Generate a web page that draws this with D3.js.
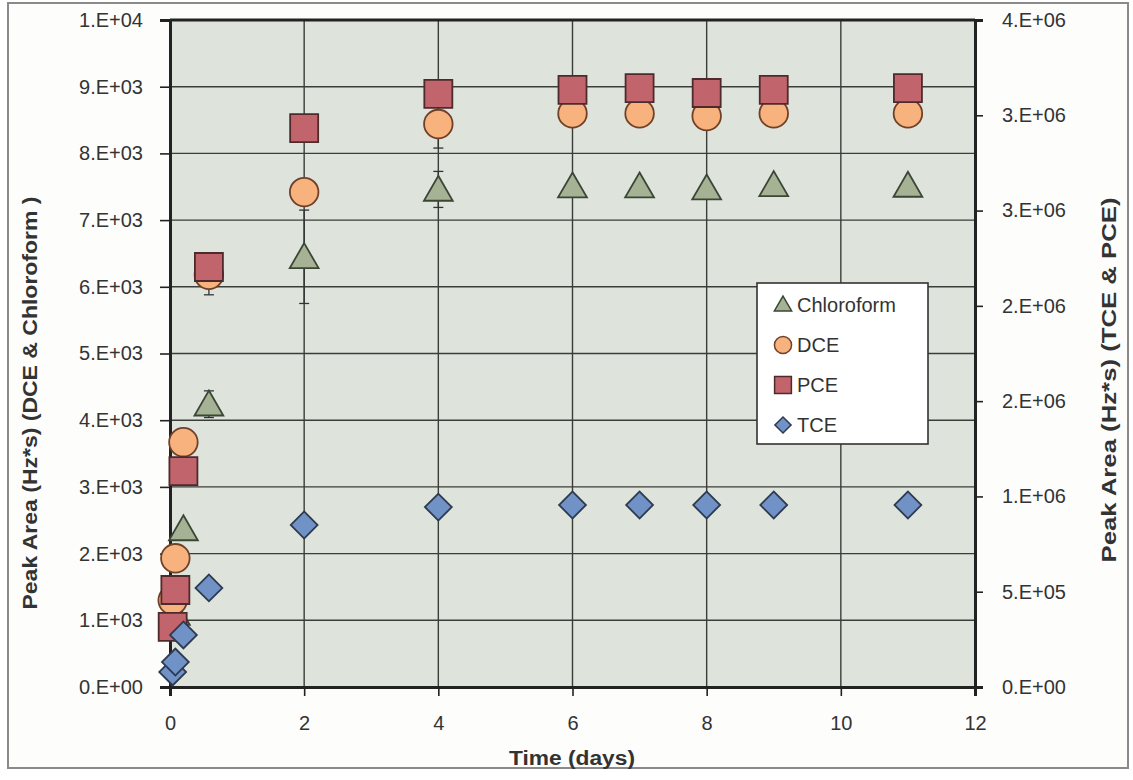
<!DOCTYPE html>
<html>
<head>
<meta charset="utf-8">
<script src="https://cdn.jsdelivr.net/npm/d3@7"></script>
<style>
  body { margin: 0; background: #fff; }
  svg text { font-family: "Liberation Sans", Arial, sans-serif; }
  svg text.title { font-family: "Liberation Sans Narrow", "Arial Narrow", "Liberation Sans", sans-serif; }
</style>
</head>
<body>
<div id="chart"></div>
<script>
// sampling times (days)
const days = [0.04, 0.08, 0.2, 0.58, 2, 4, 6, 7, 8, 9, 11];

// left axis series
const chloroform    = [null, 1100, 2370, 4240, 6450, 7460, 7510, 7510, 7480, 7530, 7520];
const chloroformErr = [0, 0, 0, 200, 700, 270, 0, 0, 0, 0, 0];
const dce           = [1300, 1930, 3670, 6180, 7420, 8440, 8600, 8600, 8560, 8600, 8600];
const dceErr        = [0, 0, 0, 300, 0, 360, 0, 0, 0, 0, 0];

// right axis series
const pce = [315000, 509000, 1133000, 2204000, 2933000, 3112000, 3133000, 3143000, 3117000, 3133000, 3143000];
const tce = [79000, 131000, 273000, 520000, 850000, 944000, 955000, 955000, 955000, 955000, 955000];

const xTicks = [0, 2, 4, 6, 8, 10, 12];
const leftTicks = d3.range(0, 10001, 1000);
const rightTicks = d3.range(0, 3500001, 500000);

const W = 1133, H = 780;
const plot = { left: 170, right: 975, top: 20, bottom: 687 };

// excel style "0.E+00"
const sci = v => {
  if (v === 0) return '0.E+00';
  let e = Math.floor(Math.log10(v));
  let m = Math.round(v / Math.pow(10, e));
  if (m >= 10) { m = 1; e += 1; }
  return m + '.E+' + String(e).padStart(2, '0');
};

const svg = d3.select('#chart').append('svg')
  .attr('width', W).attr('height', H);

// outer frame
svg.append('rect')
  .attr('x', 8).attr('y', 3).attr('width', 1120).attr('height', 765)
  .attr('fill', '#fdfdfc').attr('stroke', '#8a8a8a').attr('stroke-width', 2);

const x = d3.scaleLinear().domain([0, 12]).range([plot.left, plot.right]);
const yL = d3.scaleLinear().domain([0, 10000]).range([plot.bottom, plot.top]);
const yR = d3.scaleLinear().domain([0, 3500000]).range([plot.bottom, plot.top]);

svg.append('rect')
  .attr('x', plot.left).attr('y', plot.top)
  .attr('width', plot.right - plot.left).attr('height', plot.bottom - plot.top)
  .attr('fill', '#dee3dc');

// grid
svg.append('g').selectAll('line').data(leftTicks).join('line')
  .attr('x1', plot.left).attr('x2', plot.right)
  .attr('y1', d => yL(d)).attr('y2', d => yL(d))
  .attr('stroke', '#3a3d38').attr('stroke-width', 1.4);
svg.append('g').selectAll('line').data(xTicks).join('line')
  .attr('x1', d => x(d)).attr('x2', d => x(d))
  .attr('y1', plot.top).attr('y2', plot.bottom)
  .attr('stroke', '#3a3d38').attr('stroke-width', 1.4);

// axes
const styleAxis = g => {
  g.select('.domain').attr('stroke', '#222').attr('stroke-width', 3);
  g.selectAll('.tick line').attr('stroke', '#222').attr('stroke-width', 1.6);
  g.selectAll('.tick text').attr('fill', '#333').style('font-size', '20px');
};

svg.append('g')
  .attr('transform', `translate(${plot.left},0)`)
  .call(d3.axisLeft(yL).tickValues(leftTicks).tickFormat(sci).tickSizeOuter(0).tickSize(10).tickPadding(17))
  .call(styleAxis);

svg.append('g')
  .attr('transform', `translate(${plot.right},0)`)
  .call(d3.axisRight(yR).tickValues(rightTicks).tickFormat(sci).tickSizeOuter(0).tickSize(8).tickPadding(19))
  .call(styleAxis);

svg.append('g')
  .attr('transform', `translate(0,${plot.bottom})`)
  .call(d3.axisBottom(x).tickValues(xTicks).tickSizeOuter(0).tickSize(9).tickPadding(20))
  .call(styleAxis);

// top border
svg.append('line')
  .attr('x1', plot.left).attr('x2', plot.right)
  .attr('y1', plot.top).attr('y2', plot.top)
  .attr('stroke', '#222').attr('stroke-width', 3);

// titles
svg.append('text').attr('class', 'title')
  .attr('x', 572).attr('y', 765)
  .attr('text-anchor', 'middle')
  .attr('textLength', 126).attr('lengthAdjust', 'spacingAndGlyphs')
  .style('font-size', '20px').style('font-weight', 'bold').attr('fill', '#333')
  .text('Time (days)');

svg.append('text').attr('class', 'title')
  .attr('transform', 'translate(37,403) rotate(-90)')
  .attr('text-anchor', 'middle')
  .attr('textLength', 413).attr('lengthAdjust', 'spacingAndGlyphs')
  .style('font-size', '20px').style('font-weight', 'bold').attr('fill', '#333')
  .text('Peak Area (Hz*s) (DCE & Chloroform )');

svg.append('text').attr('class', 'title')
  .attr('transform', 'translate(1116,380) rotate(-90)')
  .attr('text-anchor', 'middle')
  .attr('textLength', 365).attr('lengthAdjust', 'spacingAndGlyphs')
  .style('font-size', '20px').style('font-weight', 'bold').attr('fill', '#333')
  .text('Peak Area (Hz*s) (TCE & PCE)');

// series
const series = [
  { name: 'Chloroform', vals: chloroform, err: chloroformErr, y: yL, type: d3.symbolTriangle, size: 360, rot: 0, fill: '#a5b293', stroke: '#3b4637', dy: 3 },
  { name: 'DCE', vals: dce, err: dceErr, y: yL, type: d3.symbolCircle, size: 640, rot: 0, fill: '#f8b27e', stroke: '#6e4128', dy: 0 },
  { name: 'PCE', vals: pce, err: null, y: yR, type: d3.symbolSquare, size: 784, rot: 0, fill: '#c2646c', stroke: '#4f2a2c', dy: 0 },
  { name: 'TCE', vals: tce, err: null, y: yR, type: d3.symbolSquare, size: 360, rot: 45, fill: '#7092c6', stroke: '#2d3a4f', dy: 0 }
];

series.forEach(s => {
  const pts = days.map((d, i) => ({ d, v: s.vals[i], e: s.err ? s.err[i] : 0 }))
    .filter(p => p.v != null);

  const eb = svg.append('g').attr('stroke', '#333').attr('stroke-width', 1.3);
  pts.filter(p => p.e > 0).forEach(p => {
    const cx = x(p.d);
    eb.append('line').attr('x1', cx).attr('x2', cx)
      .attr('y1', s.y(p.v - p.e)).attr('y2', s.y(p.v + p.e));
    [p.v - p.e, p.v + p.e].forEach(v => {
      eb.append('line').attr('x1', cx - 5).attr('x2', cx + 5)
        .attr('y1', s.y(v)).attr('y2', s.y(v));
    });
  });

  svg.append('g').selectAll('path').data(pts).join('path')
    .attr('d', d3.symbol().type(s.type).size(s.size))
    .attr('transform', p => `translate(${x(p.d)},${s.y(p.v) + s.dy}) rotate(${s.rot})`)
    .attr('fill', s.fill).attr('stroke', s.stroke).attr('stroke-width', 1.8);
});

// legend
const lg = svg.append('g').attr('transform', 'translate(757,283)');
lg.append('rect').attr('width', 171).attr('height', 161)
  .attr('fill', '#fff').attr('stroke', '#333').attr('stroke-width', 1.6);
series.forEach((s, i) => {
  const cy = 22 + i * 40;
  lg.append('path')
    .attr('d', d3.symbol().type(s.type).size(s.size * 0.36))
    .attr('transform', `translate(26,${cy + (s.dy ? 1 : 0)}) rotate(${s.rot})`)
    .attr('fill', s.fill).attr('stroke', s.stroke).attr('stroke-width', 1.5);
  lg.append('text').attr('x', 40).attr('y', cy + 7)
    .style('font-size', '20px').attr('fill', '#333')
    .text(s.name);
});
</script>
</body>
</html>
